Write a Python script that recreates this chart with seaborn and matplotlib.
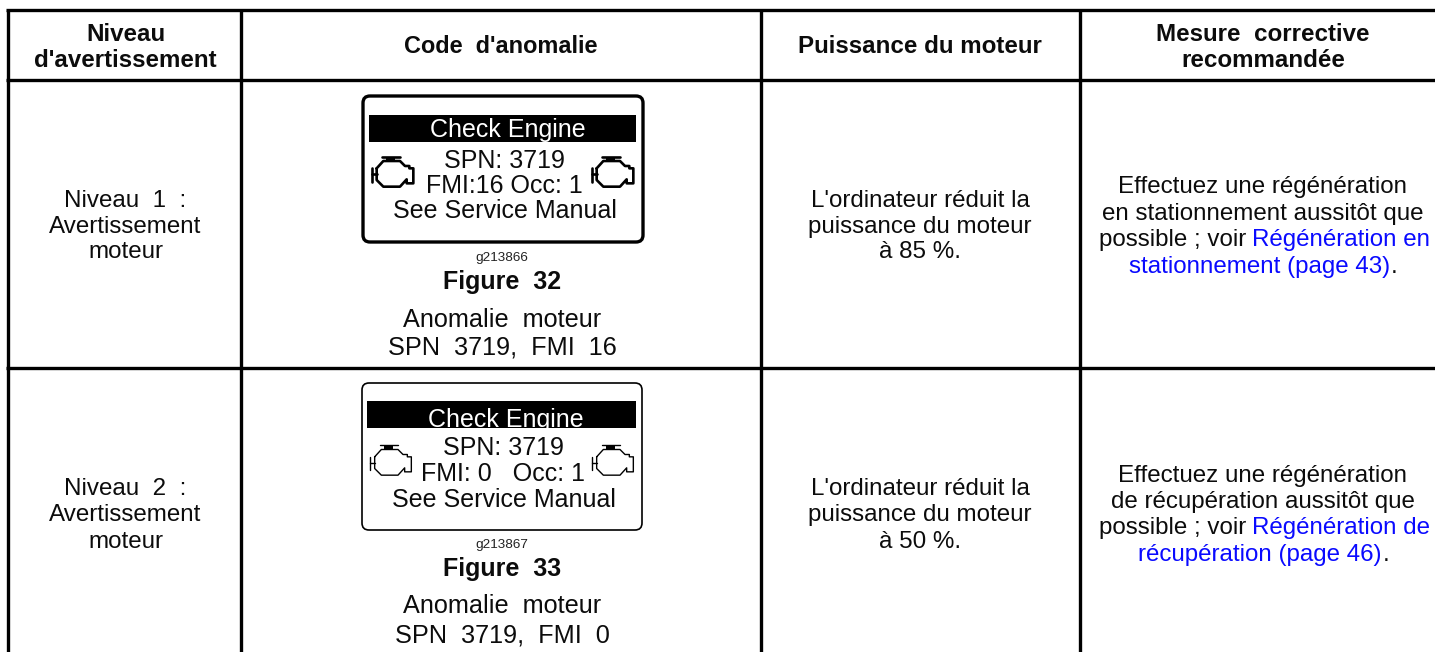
import matplotlib
matplotlib.use("Agg")
import matplotlib.pyplot as plt
from matplotlib.patches import FancyBboxPatch, Rectangle
import seaborn as sns

sns.set_theme(style="white")
plt.rcParams['font.family'] = ['Liberation Sans', 'DejaVu Sans']

W, H = 1435, 652
col_lines = [7.5, 241, 760.5, 1080]
row_lines = [10, 80, 368]
col_mid = [125.5, 500.5, 920, 1263]
headers = ["Niveau\nd'avertissement", "Code  d'anomalie", "Puissance du moteur", "Mesure  corrective\nrecommandée"]
header_sizes = [17.4, 16.9, 17.4, 17.4]
levels = ["Niveau  1  :\nAvertissement\nmoteur", "Niveau  2  :\nAvertissement\nmoteur"]
power = ["L'ordinateur réduit la\npuissance du moteur\nà 85 %.", "L'ordinateur réduit la\npuissance du moteur\nà 50 %."]
action_a = ["Effectuez une régénération", "Effectuez une régénération"]
action_b = ["en stationnement aussitôt que", "de récupération aussitôt que"]
action_c = "possible ; voir"
link_a = ["Régénération en", "Régénération de"]
link_b = ["stationnement (page 43)", "récupération (page 46)"]
fig_names = ["Figure  32", "Figure  33"]
caption_a = "Anomalie  moteur"
caption_b = ["SPN  3719,  FMI  16", "SPN  3719,  FMI  0"]
g_codes = ["g213866", "g213867"]
fmi = ["FMI:16 Occ: 1", "FMI: 0   Occ: 1"]

BLUE = "#0a0aff"
INK = "#0c0c0c"
BODY = 17.4

fig = plt.figure(figsize=(W / 100, H / 100), dpi=100)
ax = fig.add_axes([0, 0, 1, 1])
ax.set_xlim(0, W)
ax.set_ylim(H, 0)
ax.axis("off")
sns.despine(ax=ax, left=True, bottom=True)

for x in col_lines:
    ax.plot([x, x], [row_lines[0], H], color="black", lw=2.4, solid_capstyle="butt")
for y in row_lines:
    ax.plot([col_lines[0] - 1.6, W], [y, y], color="black", lw=2.4, solid_capstyle="butt")


def T(x, y, s, size=BODY, ha="center", color=INK, weight="normal"):
    ax.text(x, y, s, ha=ha, va="baseline", fontsize=size, color=color, fontweight=weight)


for x, h, base, size in zip(col_mid, headers, ([41, 67], [53], [53], [41, 67]), header_sizes):
    for y, line in zip(base, h.split("\n")):
        T(x, y, line, size=size, weight="bold")


def engine(x0, y0, lw):
    s = 1 / 3
    body = [(80, 250), (100, 228), (150, 228), (165, 243), (178, 243), (178, 250), (190, 250), (190, 295),
            (170, 295), (170, 283), (150, 305), (100, 305), (80, 285), (80, 250)]
    ax.plot([x0 + px * s for px, _ in body], [y0 + py * s for _, py in body], color="black", lw=lw)
    for seg in ([(95, 215), (150, 215)], [(80, 268), (66, 268)], [(66, 250), (66, 290)]):
        ax.plot([x0 + px * s for px, _ in seg], [y0 + py * s for _, py in seg], color="black", lw=lw)
    ax.add_patch(Rectangle((x0 + 108 * s, y0 + 215 * s), 28 * s, 13 * s, fc="black", ec="none"))


panels = [
    dict(x=363, y=96, x1=643, y1=242, lw=2.4, bx=369, bx1=636, by=115, by1=142, ilw=1.9, ox=[350, 570], oy=85,
         base=[137, 168, 193, 218], cx=[508, 504.5, 504.5, 505]),
    dict(x=362, y=383, x1=642, y1=530, lw=1.2, bx=367, bx1=636, by=401, by1=428, ilw=1.0, ox=[348, 570], oy=373.5,
         base=[427, 455, 481, 507], cx=[506, 503, 503, 503.5]),
]
level_base = [[207, 233, 258], [495, 521, 548]]
action_base = [[193, 220, 246, 273], [482, 508, 534, 561]]
link_left = [1129, 1138]
row_shift = [0, 287]

for k, p in enumerate(panels):
    ax.add_patch(FancyBboxPatch((p["x"] + 6, p["y"] + 6), p["x1"] - p["x"] - 12, p["y1"] - p["y"] - 12,
                                boxstyle="round,pad=6,rounding_size=7", fc="white", ec="black", lw=p["lw"]))
    ax.add_patch(Rectangle((p["bx"], p["by"]), p["bx1"] - p["bx"], p["by1"] - p["by"], fc="black", ec="none"))
    for y, x, line, c in zip(p["base"], p["cx"], ["Check Engine", "SPN: 3719", fmi[k], "See Service Manual"],
                             ["white", INK, INK, INK]):
        T(x, y, line, size=18, color=c)
    for ox in p["ox"]:
        engine(ox, p["oy"], p["ilw"])

    d = row_shift[k]
    T(501.5, 261 + d, g_codes[k], size=9.7, color="#222222")
    T(502, 289 + d, fig_names[k], size=18, weight="bold")
    T(502, 327 + d - k, caption_a, size=18.2)
    T(502, 355 + d, caption_b[k], size=18.2)

    for y, a, b in zip(level_base[k], levels[k].split("\n"), power[k].split("\n")):
        T(col_mid[0], y, a)
        T(col_mid[2], y, b)

    ya, yb, yc, yd = action_base[k]
    T(col_mid[3], ya, action_a[k])
    T(col_mid[3], yb, action_b[k])
    T(1099, yc, action_c, ha="left")
    T(1252, yc, link_a[k], ha="left", color=BLUE)
    t = ax.text(link_left[k], yd, link_b[k], ha="left", va="baseline", fontsize=BODY, color=BLUE)
    fig.canvas.draw()
    bb = t.get_window_extent()
    ax.text(bb.x1 + 1, yd, ".", ha="left", va="baseline", fontsize=BODY, color=INK)

fig.savefig("out.png", dpi=100)
